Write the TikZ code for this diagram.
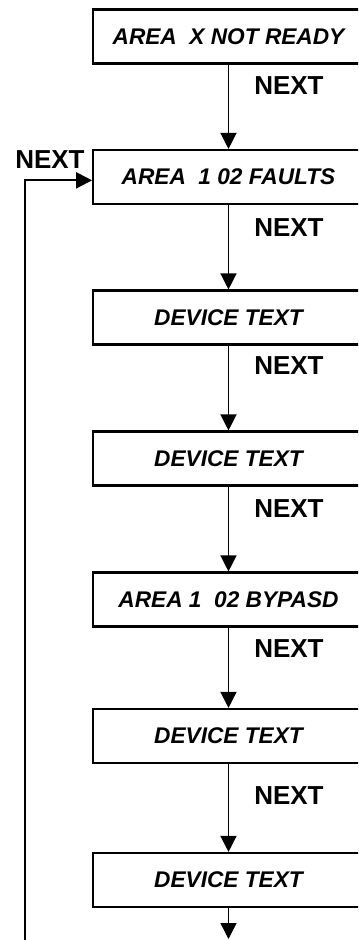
\documentclass[tikz,border=0pt]{standalone}
\usepackage{fontspec}
\setmainfont{Liberation Sans}
\usetikzlibrary{arrows.meta}
\begin{document}
\begin{tikzpicture}[x=0.75pt,y=-0.75pt,
  stepbox/.style={draw,line width=1.6pt,rectangle,inner sep=0pt,
    minimum width=203pt,minimum height=40.5pt,
    font=\fontsize{17}{20}\selectfont\bfseries\itshape},
  lbl/.style={anchor=west,inner sep=0pt,font=\fontsize{19.5}{22}\selectfont\bfseries},
  flow/.style={line width=1pt,-{Triangle[width=12pt,length=12pt]}},
  loop/.style={line width=1.5pt,-{Triangle[width=12pt,length=12pt]}}]
\useasboundingbox (0,0) rectangle (358,940);
\clip (0,0) rectangle (358,940);
\node[stepbox] (b1) at (228.5,36.5) {AREA\ \ X\ NOT READY};
\node[stepbox] (b2) at (228.5,177) {AREA\ \ 1 02 FAULTS};
\node[stepbox] (b3) at (228.5,317.5) {DEVICE TEXT};
\node[stepbox] (b4) at (228.5,458.5) {DEVICE TEXT};
\node[stepbox] (b5) at (228.5,599.5) {AREA 1\ \ 02 BYPASD};
\node[stepbox] (b6) at (228.5,736) {DEVICE TEXT};
\node[stepbox] (b7) at (228.5,880) {DEVICE TEXT};
\coordinate (bend) at (228.5,939);
\coordinate (lb) at (25,942);
\draw[flow] (b1) -- (b2);
\draw[flow] (b2) -- (b3);
\draw[flow] (b3) -- (b4);
\draw[flow] (b4) -- (b5);
\draw[flow] (b5) -- (b6);
\draw[flow] (b6) -- (b7);
\draw[flow] (b7) -- (bend);
\draw[loop] (lb) |- ([yshift=-2.5pt]b2.west);
\node[lbl] (n1) at (254,86) {NEXT};
\node[lbl] (n2) at (254,228) {NEXT};
\node[lbl] (n3) at (254,366) {NEXT};
\node[lbl] (n4) at (254,509) {NEXT};
\node[lbl] (n5) at (254,649) {NEXT};
\node[lbl] (n6) at (254,796) {NEXT};
\node[lbl] (n0) at (15,160) {NEXT};
\end{tikzpicture}
\end{document}
